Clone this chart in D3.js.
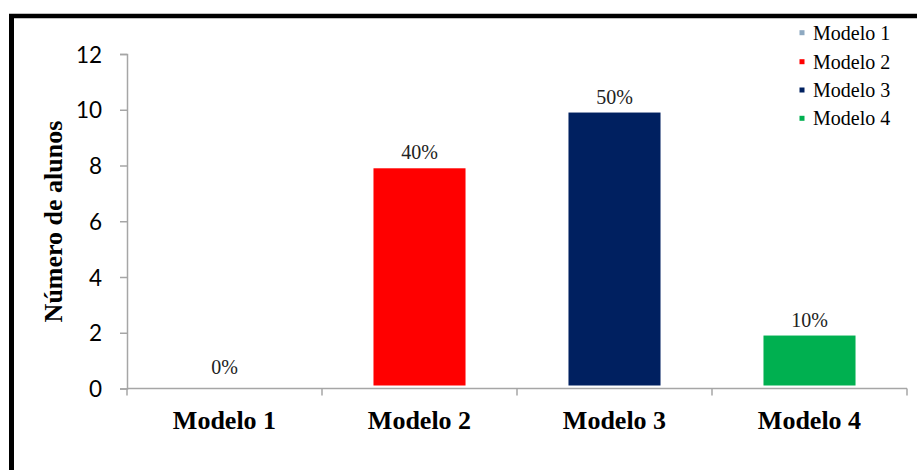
<!DOCTYPE html>
<html>
<head>
<meta charset="utf-8">
<script src="https://cdn.jsdelivr.net/npm/d3@7"></script>
<style>
  html, body { margin: 0; padding: 0; background: #fff; }
  svg { display: block; }
</style>
</head>
<body>
<svg id="chart" width="917" height="470"></svg>
<script>
const categories = ["Modelo 1", "Modelo 2", "Modelo 3", "Modelo 4"];
const values = [0, 7.9, 9.9, 1.9];
const pctLabels = ["0%", "40%", "50%", "10%"];
const colors = ["#8EA9C1", "#FF0000", "#002060", "#00B050"];
const yTicks = [0, 2, 4, 6, 8, 10, 12];
const yTitle = "Número de alunos";

(function () {
const svg = d3.select("#chart");
const W = 917, H = 470;
const pLeft = 127, pRight = 907, pTop = 54, pBottom = 388.5;

const x = d3.scaleBand().domain(categories).range([pLeft, pRight]).padding(0);
const y = d3.scaleLinear().domain([0, 12]).range([pBottom, pTop]);

// outer frame (left and top visible)
svg.append("line").attr("x1", 11.5).attr("x2", 11.5).attr("y1", 14).attr("y2", H)
  .attr("stroke", "#000").attr("stroke-width", 5);
svg.append("line").attr("x1", 9).attr("x2", W).attr("y1", 16).attr("y2", 16)
  .attr("stroke", "#000").attr("stroke-width", 4.5);

const axisColor = "#a6a6a6";

// Y axis
const yAxis = svg.append("g").attr("transform", `translate(${pLeft},0)`)
  .call(d3.axisLeft(y).tickValues(yTicks).tickSize(7).tickPadding(0).tickFormat(d3.format("d")));
yAxis.select(".domain").attr("stroke", axisColor).attr("stroke-width", 1.5);
yAxis.selectAll(".tick line").attr("stroke", axisColor).attr("stroke-width", 1.5);
yAxis.selectAll(".tick text")
  .attr("x", -25).attr("dy", "0.36em")
  .attr("fill", "#000")
  .style("font-family", "Lato, 'Open Sans', sans-serif")
  .style("font-size", "22.5px");

// X axis (ticks at category boundaries)
const boundaries = categories.map(c => x(c)).concat([pRight]);
const xg = svg.append("g");
xg.append("line").attr("x1", pLeft).attr("x2", pRight).attr("y1", pBottom).attr("y2", pBottom)
  .attr("stroke", axisColor).attr("stroke-width", 1.5);
xg.selectAll("line.tk").data(boundaries).join("line").attr("class", "tk")
  .attr("x1", d => d).attr("x2", d => d).attr("y1", pBottom).attr("y2", pBottom + 7)
  .attr("stroke", axisColor).attr("stroke-width", 1.5);
xg.selectAll("text").data(categories).join("text")
  .attr("x", d => x(d) + x.bandwidth() / 2).attr("y", 429)
  .attr("text-anchor", "middle")
  .style("font-family", "'Liberation Serif', 'Times New Roman', serif")
  .style("font-weight", "bold").style("font-size", "26px")
  .text(d => d);

// Bars
const barFrac = 0.472;
const bw = x.bandwidth() * barFrac;
svg.append("g").selectAll("rect").data(categories).join("rect")
  .attr("x", d => x(d) + (x.bandwidth() - bw) / 2)
  .attr("width", bw)
  .attr("y", (d, i) => y(values[i]))
  .attr("height", (d, i) => Math.max(0, y(0) - y(values[i]) - 3))
  .attr("fill", (d, i) => colors[i]);

// Data labels
svg.append("g").selectAll("text").data(categories).join("text")
  .attr("x", d => x(d) + x.bandwidth() / 2)
  .attr("y", (d, i) => Math.min(y(values[i]), y(0) - 3) - 9 - (values[i] === 0 ? 3 : 0))
  .attr("text-anchor", "middle")
  .attr("fill", "#222")
  .style("font-family", "'Liberation Serif', 'Times New Roman', serif")
  .style("font-size", "20px")
  .text((d, i) => pctLabels[i]);

// Y title
svg.append("text")
  .attr("transform", `translate(62,221.5) rotate(-90)`)
  .attr("text-anchor", "middle")
  .style("font-family", "'Liberation Serif', 'Times New Roman', serif")
  .style("font-weight", "bold").style("font-size", "26px")
  .text(yTitle);

// Legend
const lg = svg.append("g");
const rowY = [32.7, 61.7, 90, 118.3];
categories.forEach((c, i) => {
  lg.append("rect").attr("x", 799.5).attr("y", rowY[i] - 2.5).attr("width", 5).attr("height", 5)
    .attr("fill", colors[i]);
  lg.append("text").attr("x", 813).attr("y", rowY[i]).attr("dy", "0.35em")
    .style("font-family", "'Liberation Serif', 'Times New Roman', serif")
    .style("font-size", "20px")
    .text(c);
});
})();
</script>
</body>
</html>
